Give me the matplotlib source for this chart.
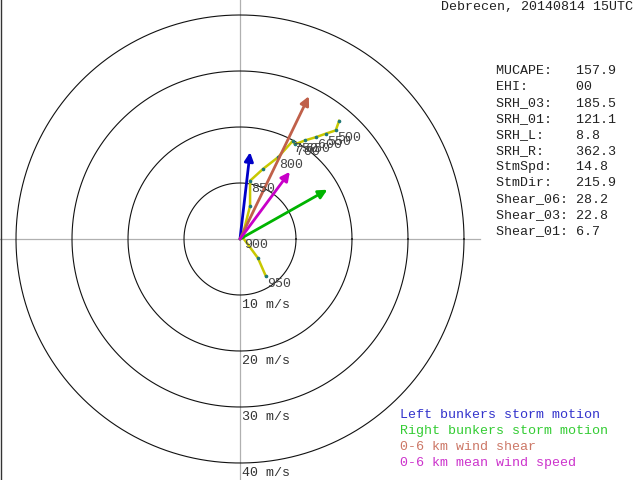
"""
Hodograph for Debrecen, 20140814 15UTC
"""
import numpy as np
import matplotlib
matplotlib.use('Agg')
import matplotlib.pyplot as plt
from matplotlib.patches import FancyArrowPatch

# Hodograph points (u, v in m/s) and pressure level labels
hodo_u = [4.6, 3.2, 0.4, 1.8, 1.8, 4.1, 6.8, 9.4, 9.8, 11.6, 13.6, 15.3, 17.1, 17.7]
hodo_v = [-6.6, -3.4, 0.4, 5.9, 10.4, 12.5, 14.6, 17.5, 16.9, 17.6, 18.2, 18.8, 19.4, 21.1]
hodo_lbl = ['950', '', '900', '', '850', '', '800', '750', '700', '650', '600', '550', '500', '']

# Vectors (u, v in m/s)
vec_names = ['Left bunkers storm motion', 'Right bunkers storm motion',
             '0-6 km wind shear', '0-6 km mean wind speed']
vec_u = [1.8, 15.6, 12.3, 8.9]
vec_v = [15.5, 8.8, 25.5, 12.0]
vec_colors = ['#0000c8', '#00b400', '#c0604a', '#c800c8']
legend_colors = ['#3333cc', '#33cc33', '#cc7766', '#cc33cc']

# Rings
ring_speeds = [10, 20, 30, 40]

# Parameters table
param_names = ['MUCAPE:', 'EHI:', 'SRH_03:', 'SRH_01:', 'SRH_L:', 'SRH_R:',
               'StmSpd:', 'StmDir:', 'Shear_06:', 'Shear_03:', 'Shear_01:']
param_values = ['157.9', '00', '185.5', '121.1', '8.8', '362.3',
                '14.8', '215.9', '28.2', '22.8', '6.7']

title = 'Debrecen, 20140814 15UTC'

FONT = 'Liberation Mono'
FS = 9.6
SCALE = 5.6  # pixels per m/s
CX, CY = 240, 239  # origin in pixels


def px(x, y):
    """pixel position -> figure fraction"""
    return x / 640, 1 - y / 480


fig = plt.figure(figsize=(6.4, 4.8), dpi=100)
ax = fig.add_axes([0, 0, 1, 1])
ax.set_xlim(-CX / SCALE, (640 - CX) / SCALE)
ax.set_ylim(-(480 - CY) / SCALE, CY / SCALE)
ax.axis('off')

# Crosshair
ax.plot([-CX / SCALE, CX / SCALE], [0, 0], color='#b0b0b0', lw=0.9, zorder=1)
ax.axvline(0, color='#b0b0b0', lw=0.9, zorder=1)
ax.axvline(-CX / SCALE + 0.1, color='#333333', lw=1, zorder=1)

# Rings and their labels
theta = np.linspace(0, 2 * np.pi, 400)
for r in ring_speeds:
    ax.plot(r * np.cos(theta), r * np.sin(theta), color='#111111', lw=0.8, zorder=2)
    ax.annotate(f'{r} m/s', xy=(0, -r), xytext=(1.5, -3), textcoords='offset points',
                ha='left', va='top', family=FONT, fontsize=FS, color='#333333')

# Vectors
for u, v, c in zip(vec_u, vec_v, vec_colors):
    arr = FancyArrowPatch((0, 0), (u, v), arrowstyle='-|>', mutation_scale=13,
                          color=c, lw=2.0, shrinkA=0, shrinkB=0, zorder=4)
    ax.add_patch(arr)

# Hodograph line
ax.plot(hodo_u, hodo_v, color='#c8c800', lw=1.8, zorder=3)
ax.plot(hodo_u, hodo_v, 'o', color='#207878', ms=1.6, zorder=3)
for u, v, lbl in zip(hodo_u, hodo_v, hodo_lbl):
    if lbl:
        ax.annotate(lbl, xy=(u, v), xytext=(1, -1.5), textcoords='offset points',
                    ha='left', va='top', family=FONT, fontsize=FS, color='#444444',
                    zorder=5)

# Title
fig.text(*px(441, 7), title, ha='left', va='center', family=FONT, fontsize=FS, color='#222222')

# Parameters
for i, (name, val) in enumerate(zip(param_names, param_values)):
    fig.text(*px(496, 71 + 16 * i), f'{name:<10}{val}', ha='left', va='center',
             family=FONT, fontsize=FS, color='#222222')

# Legend
for i, (name, c) in enumerate(zip(vec_names, legend_colors)):
    fig.text(*px(400, 415 + 16 * i), name, ha='left', va='center',
             family=FONT, fontsize=FS, color=c)

fig.savefig('out.png', dpi=100)
